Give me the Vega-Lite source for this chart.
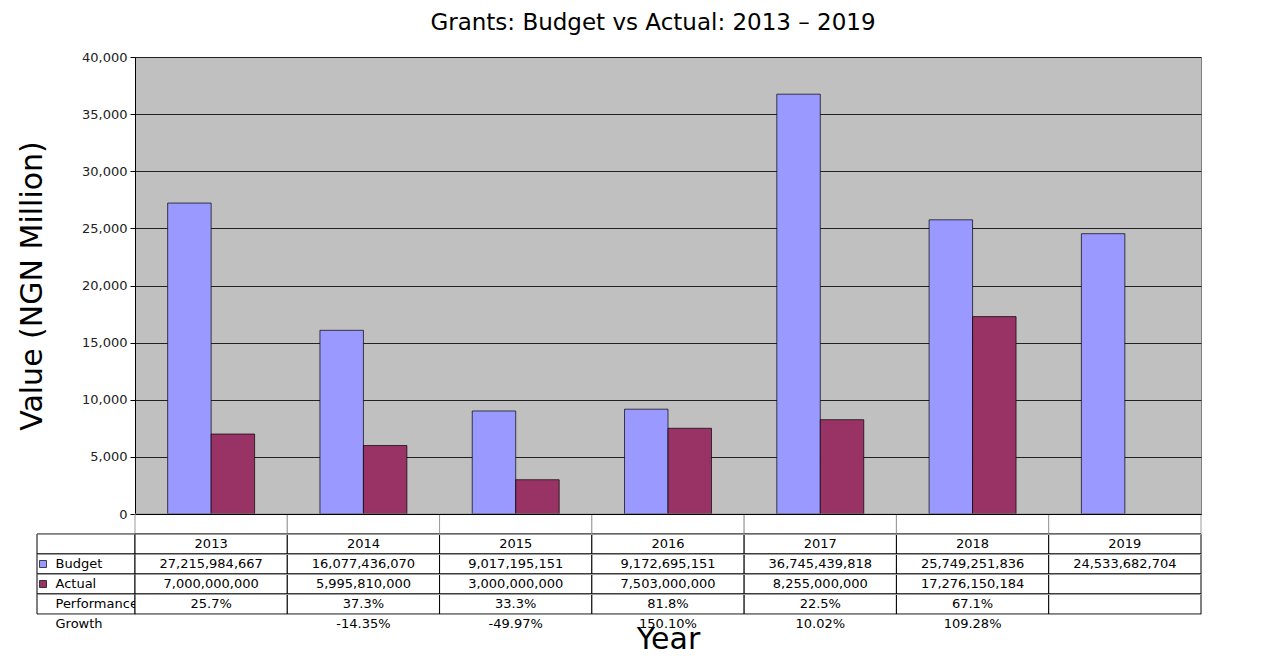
{
  "$schema": "https://vega.github.io/schema/vega-lite/v6.json",
  "padding": {"left": 17, "top": 11, "right": 5, "bottom": 0},
  "background": "white",
  "config": {"view": {"stroke": null}, "font": "DejaVu Sans"},
  "datasets": {
    "grants": [
      {"year": "2013", "Budget": 27215984667, "Actual": 7000000000, "Performance": "25.7%", "Growth": ""},
      {"year": "2014", "Budget": 16077436070, "Actual": 5995810000, "Performance": "37.3%", "Growth": "-14.35%"},
      {"year": "2015", "Budget": 9017195151, "Actual": 3000000000, "Performance": "33.3%", "Growth": "-49.97%"},
      {"year": "2016", "Budget": 9172695151, "Actual": 7503000000, "Performance": "81.8%", "Growth": "150.10%"},
      {"year": "2017", "Budget": 36745439818, "Actual": 8255000000, "Performance": "22.5%", "Growth": "10.02%"},
      {"year": "2018", "Budget": 25749251836, "Actual": 17276150184, "Performance": "67.1%", "Growth": "109.28%"},
      {"year": "2019", "Budget": 24533682704, "Actual": null, "Performance": "", "Growth": ""}
    ],
    "rows": [
      {"row": "Year"},
      {"row": "Budget"},
      {"row": "Actual"},
      {"row": "Performance"}
    ]
  },
  "columns": 2,
  "spacing": 0,
  "bounds": "flush",
  "resolve": {"scale": {"x": "independent", "y": "independent"}},
  "concat": [
    {
      "width": 98,
      "height": 457,
      "data": {"values": []},
      "mark": "point",
      "encoding": {}
    },
    {
      "width": 1066,
      "height": 457,
      "view": {"fill": "#C0C0C0", "stroke": "#808080"},
      "title": {"text": "Grants: Budget vs Actual: 2013 – 2019", "font": "DejaVu Sans", "fontSize": 23, "fontWeight": "normal", "color": "#000", "offset": 16, "dx": -15},
      "data": {"name": "grants"},
      "transform": [
        {"fold": ["Budget", "Actual"], "as": ["series", "value"]},
        {"filter": "isValid(datum.value)"}
      ],
      "mark": {"type": "bar", "stroke": "#000", "strokeWidth": 0.7},
      "encoding": {
        "x": {"field": "year", "type": "nominal", "scale": {"paddingInner": 0.429, "paddingOuter": 0.2145},
              "axis": {"labels": false, "ticks": false, "title": null, "domainColor": "#000", "domainWidth": 1}},
        "xOffset": {"field": "series", "type": "nominal", "scale": {"domain": ["Budget", "Actual"], "paddingInner": 0, "paddingOuter": 0}},
        "y": {"field": "value", "type": "quantitative", "scale": {"domain": [0, 40000000000], "nice": false},
              "axis": {"values": [0, 5000000000, 10000000000, 15000000000, 20000000000, 25000000000, 30000000000, 35000000000, 40000000000],
                       "labelExpr": "format(datum.value / 1000000, ',')",
                       "grid": true, "gridColor": "#222", "gridOpacity": 1,
                       "tickColor": "#000", "tickSize": 5, "domainColor": "#000",
                       "labelFont": "DejaVu Sans", "labelFontSize": 13, "labelColor": "#222", "labelPadding": 3,
                       "title": "Value (NGN Million)", "titleFont": "DejaVu Sans", "titleFontSize": 30, "titleFontWeight": "normal", "titleColor": "#000", "titlePadding": 34}},
        "color": {"field": "series", "type": "nominal", "scale": {"domain": ["Budget", "Actual"], "range": ["#9999FF", "#993366"]}, "legend": null}
      }
    },
    {
      "width": 98,
      "height": 120,
      "layer": [
        {
          "data": {"name": "rows"},
          "mark": {"type": "rect", "fill": "white", "stroke": "#000", "strokeWidth": 1},
          "encoding": {
            "y": {"field": "row", "type": "nominal", "scale": {"domain": ["tick", "Year", "Budget", "Actual", "Performance", "Growth"], "paddingInner": 0, "paddingOuter": 0},
                  "axis": {"orient": "left", "domain": false, "ticks": false, "grid": true, "bandPosition": 0,
                           "gridColor": {"condition": {"test": "datum.value === 'tick'", "value": "transparent"}, "value": "#999"},
                           "zindex": 1, "title": null,
                           "labelExpr": "datum.value === 'tick' || datum.value === 'Year' ? '' : datum.value",
                           "labelAlign": "left", "labelBaseline": "middle", "labelPadding": -18, "labelOffset": 0,
                           "labelFont": "DejaVu Sans", "labelFontSize": 13, "labelColor": "#000"}}
          }
        },
        {
          "data": {"name": "rows"},
          "transform": [{"filter": "datum.row === 'Budget' || datum.row === 'Actual'"}],
          "mark": {"type": "point", "shape": "square", "filled": true, "size": 49, "stroke": "#000", "strokeWidth": 0.7, "opacity": 1, "xOffset": -43},
          "encoding": {
            "y": {"field": "row", "type": "nominal"},
            "color": {"field": "row", "type": "nominal", "scale": {"domain": ["Budget", "Actual"], "range": ["#9999FF", "#993366"]}, "legend": null}
          }
        }
      ]
    },
    {
      "width": 1066,
      "height": 120,
      "data": {"name": "grants"},
      "encoding": {
        "x": {"field": "year", "type": "nominal", "scale": {"paddingInner": 0, "paddingOuter": 0},
              "axis": {"orient": "bottom", "domain": false, "ticks": false, "labels": false, "grid": false,
                       "title": "Year", "titleFont": "DejaVu Sans", "titleFontSize": 30, "titleFontWeight": "normal", "titleColor": "#000", "titlePadding": -10}}
      },
      "layer": [
        {
          "transform": [{"fold": ["tick", "Year", "Budget", "Actual", "Performance"], "as": ["row", "v"]}],
          "mark": {"type": "rect", "fill": "white", "strokeWidth": 1},
          "encoding": {
            "y": {"field": "row", "type": "nominal", "scale": {"domain": ["tick", "Year", "Budget", "Actual", "Performance", "Growth"], "paddingInner": 0, "paddingOuter": 0},
                  "axis": {"domain": false, "ticks": false, "labels": false, "grid": true, "bandPosition": 0,
                           "gridColor": {"condition": {"test": "datum.value === 'tick'", "value": "#000"}, "value": "#999"},
                           "zindex": 1, "title": null}},
            "stroke": {"condition": {"test": "datum.row === 'tick'", "value": "#999"}, "value": "#000"}
          }
        },
        {
          "mark": {"type": "text", "font": "DejaVu Sans", "fontSize": 13, "color": "#000"},
          "encoding": {"y": {"datum": "Year", "type": "nominal"}, "text": {"field": "year", "type": "nominal"}}
        },
        {
          "mark": {"type": "text", "font": "DejaVu Sans", "fontSize": 13, "color": "#000"},
          "encoding": {"y": {"datum": "Budget", "type": "nominal"}, "text": {"field": "Budget", "type": "quantitative", "format": ",.0f"}}
        },
        {
          "transform": [{"filter": "isValid(datum.Actual)"}],
          "mark": {"type": "text", "font": "DejaVu Sans", "fontSize": 13, "color": "#000"},
          "encoding": {"y": {"datum": "Actual", "type": "nominal"}, "text": {"field": "Actual", "type": "quantitative", "format": ",.0f"}}
        },
        {
          "mark": {"type": "text", "font": "DejaVu Sans", "fontSize": 13, "color": "#000"},
          "encoding": {"y": {"datum": "Performance", "type": "nominal"}, "text": {"field": "Performance", "type": "nominal"}}
        },
        {
          "mark": {"type": "text", "font": "DejaVu Sans", "fontSize": 13, "color": "#000"},
          "encoding": {"y": {"datum": "Growth", "type": "nominal"}, "text": {"field": "Growth", "type": "nominal"}}
        }
      ]
    }
  ]
}
